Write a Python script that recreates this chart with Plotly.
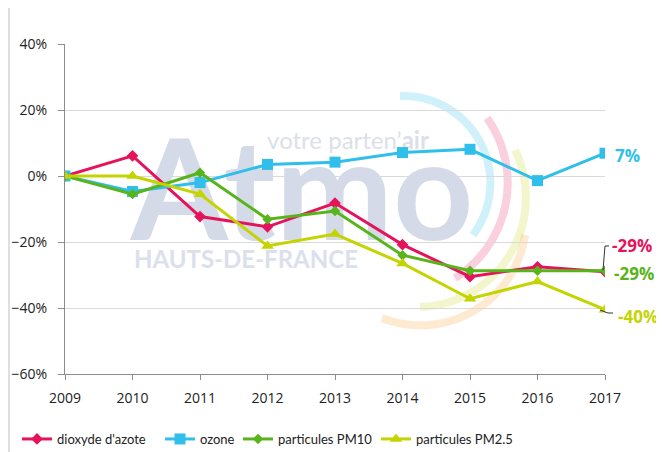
import math
import plotly.graph_objects as go

years = [2009, 2010, 2011, 2012, 2013, 2014, 2015, 2016, 2017]
no2 = [0.0, 0.061, -0.123, -0.154, -0.082, -0.208, -0.305, -0.275, -0.29]
ozone = [0.0, -0.047, -0.02, 0.035, 0.042, 0.071, 0.081, -0.014, 0.069]
pm10 = [0.0, -0.055, 0.01, -0.131, -0.106, -0.24, -0.287, -0.287, -0.287]
pm25 = [0.0, 0.0, -0.055, -0.212, -0.176, -0.265, -0.372, -0.32, -0.405]
names = ["dioxyde d'azote", "ozone", "particules PM10", "particules PM2.5"]
end_labels = ["-29%", "7%", "-29%", "-40%"]
colors = ["#E5135B", "#2FBFEA", "#58B41B", "#C3D400"]
symbols = ["diamond", "square", "diamond", "triangle-up"]
msizes = [9, 11, 8, 11]

# geometry: window pixels of the plot area; the page body adds an 8px offset
OFF = 8
W, H = 664, 452
X0, X1, Y0, Y1 = 65, 605, 44, 374          # plot area in window pixels
L, T = X0 - OFF, Y0 - OFF
R, B = W - (X1 - OFF), H - (Y1 - OFF)
PW, PH = X1 - X0, Y1 - Y0
FONT = "Open Sans"


def px_to_paper(px, py):
    return (px - X0) / PW, (Y1 - py) / PH


def px_to_data(px, py):
    return 2009 + (px - X0) / (PW / 8), -0.6 + (Y1 - py) / PH


def arc_path(p1, p2, p3, n=60):
    (x1, y1), (x2, y2), (x3, y3) = p1, p2, p3
    d = 2 * (x1 * (y2 - y3) + x2 * (y3 - y1) + x3 * (y1 - y2))
    ux = ((x1**2 + y1**2) * (y2 - y3) + (x2**2 + y2**2) * (y3 - y1) + (x3**2 + y3**2) * (y1 - y2)) / d
    uy = ((x1**2 + y1**2) * (x3 - x2) + (x2**2 + y2**2) * (x1 - x3) + (x3**2 + y3**2) * (x2 - x1)) / d
    r = math.hypot(x1 - ux, y1 - uy)
    a1 = math.atan2(y1 - uy, x1 - ux)
    a2 = math.atan2(y2 - uy, x2 - ux)
    a3 = math.atan2(y3 - uy, x3 - ux)
    def norm(a):
        while a < 0:
            a += 2 * math.pi
        return a
    s2 = norm(a2 - a1)
    s3 = norm(a3 - a1)
    sweep = s3 if s2 < s3 else s3 - 2 * math.pi
    pts = []
    for i in range(n + 1):
        a = a1 + sweep * i / n
        pts.append(px_to_paper(ux + r * math.cos(a), uy + r * math.sin(a)))
    return "M " + " L ".join(f"{x:.4f},{y:.4f}" for x, y in pts)


fig = go.Figure()

# watermark (drawn first so the data lines sit above it)
wm = [
    ("Atmo", 302, 205, 140, "#D5DAE8", "Lato", True),
    ("votre parten\u2019<b>air</b>", 348, 143, 24, "#DCDFEA", "Lato", False),
    ("HAUTS-DE-FRANCE", 246, 262, 24, "#DCE0EC", "Lato", True),
]
for txt, px, py, size, col, fam, bold in wm:
    xd, yd = px_to_data(px, py)
    fig.add_trace(go.Scatter(
        x=[xd], y=[yd], mode="text", text=[f"<b>{txt}</b>" if bold else txt],
        textposition="middle center",
        textfont=dict(size=size, color=col, family=fam),
        showlegend=False, hoverinfo="skip", cliponaxis=False))

legend_ids = ["legend", "legend2", "legend3", "legend4"]
for n, vals, c, s, ms, lg in zip(names, [no2, ozone, pm10, pm25], colors, symbols, msizes, legend_ids):
    fig.add_trace(go.Scatter(
        x=years, y=vals, name=n, mode="lines+markers", legend=lg,
        line=dict(color=c, width=3),
        marker=dict(symbol=s, size=ms, color=c)))

shapes = []
arcs = [
    (((400, 96), (488, 163), (473, 235)), "rgba(45,191,234,0.22)"),
    (((487, 118), (507, 195), (455, 278)), "rgba(229,19,91,0.2)"),
    (((515, 150), (505, 262), (420, 307)), "rgba(195,212,0,0.2)"),
    (((525, 235), (470, 313), (382, 318)), "rgba(245,160,40,0.22)"),
]
for pts, col in arcs:
    shapes.append(dict(type="path", path=arc_path(*pts), xref="paper", yref="paper",
                       line=dict(color=col, width=8), layer="below"))

# left frame line
fx = px_to_paper(9, 0)[0]
shapes.append(dict(type="line", xref="paper", yref="paper",
                   x0=fx, x1=fx, y0=px_to_paper(9, 0)[1], y1=px_to_paper(9, H)[1],
                   line=dict(color="#BFBFBF", width=1)))
# leader lines for end labels
for (xa, ya), (xb, yb), (xc, yc) in [((603, 270), (605, 246), (609, 246)),
                                     ((600, 310), (608, 313), (613, 313))]:
    p1, p2, p3 = px_to_paper(xa, ya), px_to_paper(xb, yb), px_to_paper(xc, yc)
    shapes.append(dict(type="path", xref="paper", yref="paper",
                       path=f"M {p1[0]},{p1[1]} L {p2[0]},{p2[1]} L {p3[0]},{p3[1]}",
                       line=dict(color="#333333", width=1)))

annotations = []
label_pos = [(610, 245), (613, 155), (612, 273), (616, 316)]
for lab, c, (px, py) in zip(end_labels, colors, label_pos):
    xp, yp = px_to_paper(px, py)
    annotations.append(dict(x=xp, y=yp, xref="paper", yref="paper", text=f"<b>{lab}</b>",
                            showarrow=False, xanchor="left", yanchor="middle",
                            font=dict(size=17, color=c, family=FONT)))

legends = {}
for lg, lx in zip(legend_ids, [17, 160, 238, 376]):
    xp, yp = px_to_paper(lx, 439)
    legends[lg] = dict(orientation="h", x=xp, xanchor="left", y=yp, yanchor="middle",
                       font=dict(size=13, color="#222222", family="Lato"), itemwidth=30,
                       bgcolor="rgba(0,0,0,0)")

fig.update_layout(
    width=W, height=H,
    margin=dict(l=L, r=R, t=T, b=B, autoexpand=False),
    paper_bgcolor="white", plot_bgcolor="white",
    font=dict(family=FONT, size=14, color="#222222"),
    showlegend=True,
    shapes=shapes, annotations=annotations,
    xaxis=dict(range=[2009, 2017], dtick=1, tick0=2009, showgrid=False, zeroline=False,
               showline=True, linecolor="#8C8C8C", linewidth=1, ticks="outside",
               ticklen=5, tickcolor="#8C8C8C", ticklabelstandoff=6,
               tickfont=dict(size=14, color="#222222")),
    yaxis=dict(range=[-0.6, 0.4], dtick=0.2, tickformat=".0%", showgrid=True,
               gridcolor="#D9D9D9", gridwidth=1, zeroline=False, showline=True,
               linecolor="#8C8C8C", linewidth=1, ticks="outside", ticklen=6,
               tickcolor="#8C8C8C", ticklabelstandoff=8,
               tickfont=dict(size=14, color="#222222")),
    **legends,
)

fig.write_html("out.html")
